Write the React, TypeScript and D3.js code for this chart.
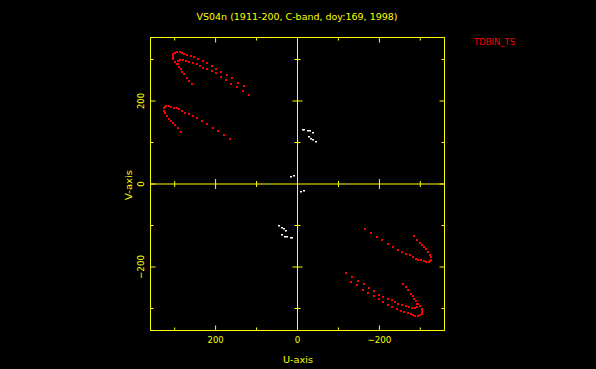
import React, { useEffect, useRef } from 'react';
import * as d3 from 'd3';

// uv samples [u, v] (upper-left half); conjugates (-u,-v) are drawn too
const trackA = [
  [305, 305], [305, 310], [303, 314], [299, 316], [294, 317], [288, 317], [282, 316],
  [276, 314], [269, 312], [260, 309], [252, 305], [242, 301], [232, 296], [222, 292],
  [210, 285], [198, 278], [186, 271], [172, 263], [159, 255], [146, 244], [131, 235],
  [119, 214], [303, 301], [300, 294], [295, 288],
];
const trackB = [
  [291, 296], [287, 298], [280, 298], [272, 296], [264, 294], [256, 292], [246, 288],
  [238, 284], [230, 280], [222, 276], [210, 272], [199, 268], [188, 258], [175, 251],
  [162, 242], [147, 234], [134, 224],
  [291, 288], [289, 282], [285, 276], [282, 270], [277, 264], [271, 256], [264, 248], [257, 240],
];
const trackC = [
  [324, 186], [320, 188], [314, 188], [308, 186], [301, 184], [295, 182], [289, 180],
  [282, 176], [274, 172], [265, 168], [255, 164], [245, 158], [233, 152], [220, 144],
  [207, 136], [194, 128], [180, 119], [165, 109],
  [326, 182], [325, 176], [323, 170], [318, 163], [314, 157], [309, 151], [305, 146],
  [300, 142], [292, 134], [284, 126],
];
const shortTracks = [
  [-13, 131], [-17, 130], [-25, 128], [-31, 127], [-38, 123],
  [-28, 114], [-34, 109], [-39, 106], [-46, 101],
  [15, 18], [9, 20],
];

const uTicks = [-300, -200, -100, 0, 100, 200, 300];
const vTicks = [-300, -200, -100, 0, 100, 200, 300];
const title = 'VS04n (1911-200, C-band, doy:169, 1998)';
const stationLabel = 'TDBIN_TS';

const W = 596;
const H = 369;
const YEL = '#ffff00';

const App = () => {
  const ref = useRef(null);

  useEffect(() => {
    document.body.style.margin = '0';
    document.body.style.background = '#000';
    const svg = d3.select(ref.current);
    svg.selectAll('*').remove();

    const left = 150.5, right = 444.5, top = 37.5, bottom = 330.5;
    const x = d3.scaleLinear().domain([359, -359]).range([left, right]);
    const y = d3.scaleLinear().domain([-353, 353]).range([bottom, top]);
    const x0 = x(0), y0 = y(0);

    svg.append('rect').attr('width', W).attr('height', H).attr('fill', '#000');

    const g = svg.append('g').attr('stroke', YEL).attr('stroke-width', 1).attr('fill', 'none');
    g.append('rect').attr('x', left).attr('y', top).attr('width', right - left).attr('height', bottom - top);
    g.append('line').attr('x1', x0).attr('x2', x0).attr('y1', top).attr('y2', bottom);
    g.append('line').attr('x1', left).attr('x2', right).attr('y1', y0).attr('y2', y0);

    const len = (d) => (d % 200 === 0 ? 5 : 3);
    uTicks.forEach((d) => {
      const px = x(d);
      g.append('line').attr('x1', px).attr('x2', px).attr('y1', bottom).attr('y2', bottom - len(d));
      g.append('line').attr('x1', px).attr('x2', px).attr('y1', top).attr('y2', top + len(d));
      if (d !== 0) g.append('line').attr('x1', px).attr('x2', px).attr('y1', y0 - len(d)).attr('y2', y0 + len(d));
    });
    vTicks.forEach((d) => {
      const py = y(d);
      g.append('line').attr('y1', py).attr('y2', py).attr('x1', left).attr('x2', left + len(d));
      g.append('line').attr('y1', py).attr('y2', py).attr('x1', right).attr('x2', right - len(d));
      if (d !== 0) g.append('line').attr('y1', py).attr('y2', py).attr('x1', x0 - len(d)).attr('x2', x0 + len(d));
    });

    const txt = svg.append('g').attr('fill', YEL)
      .style('font-family', '"DejaVu Sans", sans-serif').style('font-size', '9.5px');

    txt.append('text').attr('x', 297).attr('y', 20).attr('text-anchor', 'middle')
      .attr('textLength', 201).attr('lengthAdjust', 'spacingAndGlyphs').text(title);

    const fmt = (d) => (d < 0 ? '\u2212' + Math.abs(d) : String(d));
    [200, 0, -200].forEach((d) => {
      const s = fmt(d);
      txt.append('text').attr('x', x(d)).attr('y', 342.7).attr('text-anchor', 'middle')
        .attr('textLength', d === 0 ? 5.5 : d < 0 ? 24 : 16).attr('lengthAdjust', 'spacingAndGlyphs').text(s);
      txt.append('text').attr('transform', `translate(144.3,${y(d)}) rotate(-90)`).attr('text-anchor', 'middle')
        .attr('textLength', d === 0 ? 5.5 : d < 0 ? 24 : 16).attr('lengthAdjust', 'spacingAndGlyphs').text(s);
    });

    txt.append('text').attr('x', 298).attr('y', 362.5).attr('text-anchor', 'middle')
      .attr('textLength', 30).attr('lengthAdjust', 'spacingAndGlyphs').text('U-axis');
    txt.append('text').attr('transform', 'translate(131.7,185) rotate(-90)').attr('text-anchor', 'middle')
      .attr('textLength', 30).attr('lengthAdjust', 'spacingAndGlyphs').text('V-axis');

    svg.append('text').attr('x', 474).attr('y', 45).attr('fill', '#ff0000')
      .style('font-family', '"DejaVu Sans", sans-serif').style('font-size', '9.5px')
      .attr('textLength', 41).attr('lengthAdjust', 'spacingAndGlyphs').text(stationLabel);

    const red = [...trackA, ...trackB, ...trackC];
    const both = (pts) => [...pts, ...pts.map(([u, v]) => [-u, -v])];

    svg.append('g').selectAll('rect').data(both(red)).enter().append('rect')
      .attr('x', (d) => Math.round(x(d[0]) - 1))
      .attr('y', (d) => Math.round(y(d[1]) - 1))
      .attr('width', 2).attr('height', 2).attr('fill', '#ff0000');

    svg.append('g').selectAll('rect').data(both(shortTracks)).enter().append('rect')
      .attr('x', (d) => Math.round(x(d[0]) - 1))
      .attr('y', (d) => Math.round(y(d[1]) - 1))
      .attr('width', 2).attr('height', 1.5).attr('fill', '#ffffff');
  }, []);

  return <svg ref={ref} width={W} height={H} style={{ display: 'block' }}></svg>;
};

export default App;
